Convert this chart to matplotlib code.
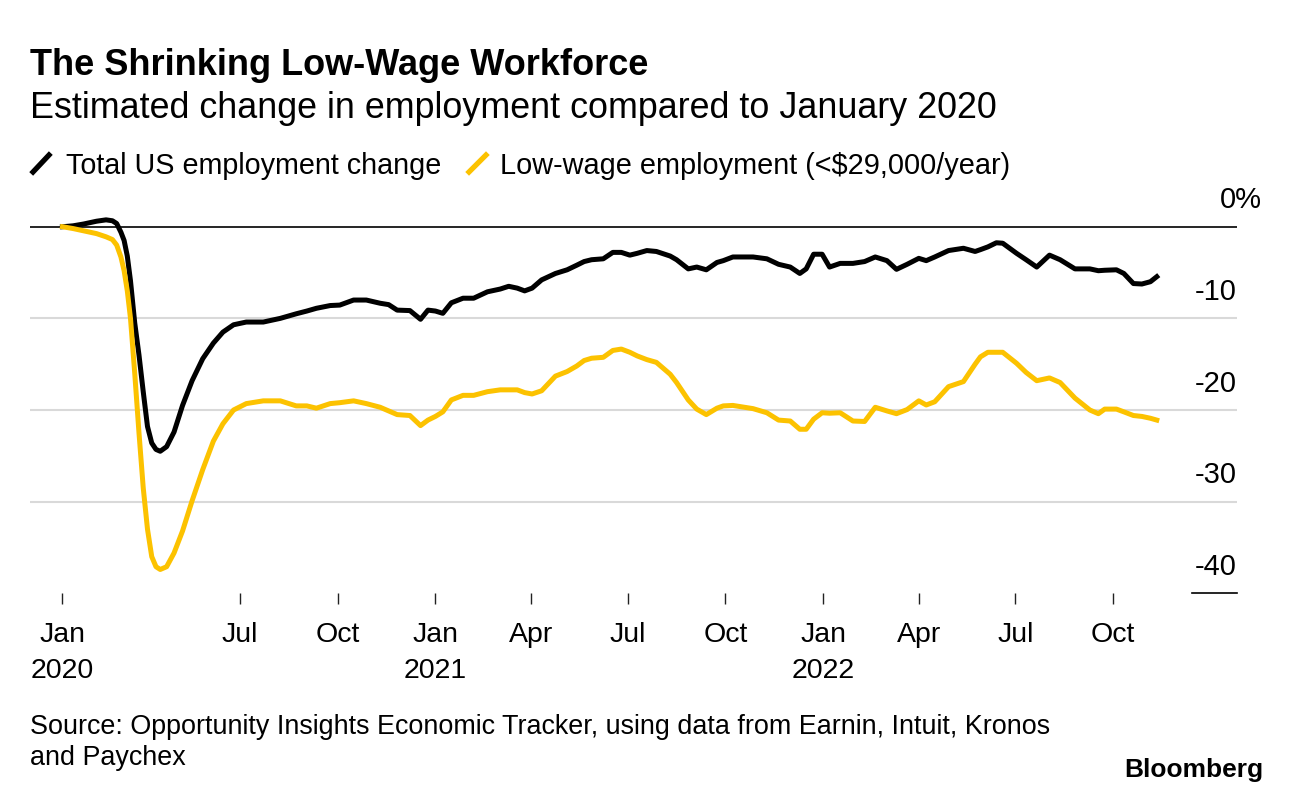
import pandas as pd
import numpy as np
import matplotlib
matplotlib.use('Agg')
import matplotlib.pyplot as plt
import matplotlib.dates as mdates
from matplotlib.lines import Line2D

plt.rcParams.update({'font.family': ['Liberation Sans', 'DejaVu Sans']})

# ---- data --------------------------------------------------------------------
dates = ['2020-01-16', '2020-01-26', '2020-02-05', '2020-02-17', '2020-02-26', '2020-03-03',
         '2020-03-07', '2020-03-11', '2020-03-14', '2020-03-17', '2020-03-20', '2020-03-24',
         '2020-03-28', '2020-04-01', '2020-04-05', '2020-04-09', '2020-04-13', '2020-04-17',
         '2020-04-23', '2020-04-30', '2020-05-08', '2020-05-17', '2020-05-27', '2020-06-06',
         '2020-06-15', '2020-06-25', '2020-07-07', '2020-07-23', '2020-08-08', '2020-08-23',
         '2020-09-02', '2020-09-11', '2020-09-24', '2020-10-03', '2020-10-16', '2020-10-28',
         '2020-11-10', '2020-11-18', '2020-11-26', '2020-12-08', '2020-12-18', '2020-12-25',
         '2021-01-01', '2021-01-08', '2021-01-16', '2021-01-27', '2021-02-06', '2021-02-19',
         '2021-03-03', '2021-03-11', '2021-03-19', '2021-03-26', '2021-04-02', '2021-04-11',
         '2021-04-24', '2021-05-05', '2021-05-14', '2021-05-21', '2021-05-28', '2021-06-08',
         '2021-06-17', '2021-06-25', '2021-07-03', '2021-07-10', '2021-07-19', '2021-07-28',
         '2021-08-10', '2021-08-16', '2021-08-27', '2021-09-04', '2021-09-13', '2021-09-23',
         '2021-09-29', '2021-10-08', '2021-10-27', '2021-11-09', '2021-11-20', '2021-12-01',
         '2021-12-10', '2021-12-16', '2021-12-23', '2021-12-31', '2022-01-07', '2022-01-17',
         '2022-01-29', '2022-02-09', '2022-02-19', '2022-03-02', '2022-03-11', '2022-03-21',
         '2022-04-01', '2022-04-08', '2022-04-16', '2022-04-29', '2022-05-13', '2022-05-24',
         '2022-05-29', '2022-06-05', '2022-06-13', '2022-06-19', '2022-07-02', '2022-07-11',
         '2022-07-21', '2022-08-02', '2022-08-12', '2022-08-26', '2022-09-09', '2022-09-17',
         '2022-09-23', '2022-10-04', '2022-10-11', '2022-10-20', '2022-10-28', '2022-11-05',
         '2022-11-11']

total_us = [0.0, 0.1, 0.3, 0.6, 0.75, 0.65,
            0.35, -0.6, -1.5, -3.2, -5.9, -10.5,
            -14.0, -18.0, -21.8, -23.6, -24.3, -24.5,
            -24.0, -22.4, -19.5, -16.8, -14.4, -12.7,
            -11.5, -10.7, -10.4, -10.4, -10.0, -9.5,
            -9.2, -8.9, -8.6, -8.55, -8.0, -8.0,
            -8.35, -8.5, -9.1, -9.15, -10.1, -9.1,
            -9.2, -9.45, -8.3, -7.8, -7.8, -7.1,
            -6.8, -6.5, -6.7, -7.0, -6.7, -5.8,
            -5.1, -4.7, -4.2, -3.8, -3.6, -3.5,
            -2.8, -2.8, -3.1, -2.9, -2.6, -2.7,
            -3.2, -3.6, -4.6, -4.4, -4.7, -3.9,
            -3.7, -3.3, -3.3, -3.5, -4.1, -4.4,
            -5.1, -4.6, -3.0, -3.0, -4.4, -4.0,
            -4.0, -3.8, -3.3, -3.7, -4.65, -4.1,
            -3.45, -3.7, -3.3, -2.6, -2.35, -2.7,
            -2.5, -2.2, -1.75, -1.8, -2.9, -3.6,
            -4.4, -3.1, -3.6, -4.6, -4.6, -4.8,
            -4.75, -4.7, -5.1, -6.2, -6.25, -6.0,
            -5.45]

low_wage = [0.0, -0.2, -0.45, -0.75, -1.1, -1.4,
            -2.0, -3.3, -4.8, -7.0, -10.0, -16.0,
            -22.5, -28.5, -33.0, -36.0, -37.1, -37.4,
            -37.1, -35.6, -33.2, -29.9, -26.5, -23.4,
            -21.5, -20.0, -19.3, -19.0, -19.0, -19.55,
            -19.55, -19.8, -19.3, -19.2, -19.0, -19.3,
            -19.7, -20.1, -20.5, -20.6, -21.7, -21.1,
            -20.7, -20.2, -18.9, -18.4, -18.4, -18.0,
            -17.8, -17.8, -17.8, -18.1, -18.25, -17.9,
            -16.3, -15.8, -15.2, -14.6, -14.35, -14.25,
            -13.5, -13.35, -13.7, -14.1, -14.5, -14.8,
            -16.1, -17.0, -18.9, -19.9, -20.5, -19.8,
            -19.55, -19.5, -19.85, -20.3, -21.1, -21.2,
            -22.1, -22.1, -21.0, -20.3, -20.35, -20.3,
            -21.2, -21.25, -19.7, -20.1, -20.4, -19.95,
            -19.0, -19.45, -19.1, -17.45, -16.9, -15.0,
            -14.2, -13.7, -13.7, -13.7, -14.9, -15.9,
            -16.8, -16.5, -17.0, -18.7, -20.0, -20.4,
            -19.9, -19.9, -20.2, -20.6, -20.7, -20.9,
            -21.1]

tick_dates = ['2020-01-16', '2020-07-01', '2020-10-01', '2021-01-01', '2021-04-01', '2021-07-01',
              '2021-10-01', '2022-01-01', '2022-04-01', '2022-07-01', '2022-10-01']
tick_labels = ['Jan\n2020', 'Jul', 'Oct', 'Jan\n2021', 'Apr', 'Jul',
               'Oct', 'Jan\n2022', 'Apr', 'Jul', 'Oct']
y_ticks = [0, -10, -20, -30, -40]
y_labels = ['0%', '-10', '-20', '-30', '-40']

BLACK = '#000000'
YELLOW = '#FCC200'
GRID = '#d9d9d9'

# ---- figure -----------------------------------------------------------------
W, H = 1292, 794
fig = plt.figure(figsize=(W / 100, H / 100), dpi=100)
fx = lambda px: px / W
fy = lambda py: 1 - py / H

# plot area: x 30..1237 px, y -40 at 593 px, +2 at 208 px
ax = fig.add_axes([fx(30), fy(593.3), fx(1237) - fx(30), (593.3 - 208.4) / H])
d = pd.to_datetime(dates)

for v in y_ticks[1:-1]:
    ax.axhline(v, color=GRID, lw=1.5, zorder=0)
ax.axhline(0, color=BLACK, lw=1.2, zorder=1)
ax.plot([0.963, 1.0], [-40, -40], color=BLACK, lw=1.2,
        transform=ax.get_yaxis_transform(), clip_on=False)

ax.plot(d, total_us, color=BLACK, lw=3.6, solid_joinstyle='round', zorder=3, clip_on=False)
ax.plot(d, low_wage, color=YELLOW, lw=3.6, solid_joinstyle='round', zorder=4, clip_on=False)

ax.set_xlim(pd.Timestamp('2019-12-16 10:00'), pd.Timestamp('2023-01-25 12:00'))
ax.set_ylim(-40, 2)

# right-hand value labels sitting above their gridlines
ytr = ax.get_yaxis_transform()
for v, lab in zip(y_ticks, y_labels):
    if lab.endswith('%'):
        ax.text(0.9859, v + 2.02, lab, transform=ytr, ha='left', va='baseline', fontsize=21)
    else:
        ax.text(1.0, v + 2.02, lab, transform=ytr, ha='right', va='baseline', fontsize=21)

ax.set_xticks(pd.to_datetime(tick_dates))
ax.set_xticklabels(tick_labels, fontsize=20.5, linespacing=1.5)
ax.tick_params(axis='x', length=8, width=1, color='#222222', pad=13)
ax.tick_params(axis='y', left=False, labelleft=False)
for s in ax.spines.values():
    s.set_visible(False)

# ---- titles, legend, footer --------------------------------------------------
fig.text(fx(30), fy(75), 'The Shrinking Low-Wage Workforce', fontsize=26, fontweight='bold',
         ha='left', va='baseline')
fig.text(fx(30), fy(117.5), 'Estimated change in employment compared to January 2020',
         fontsize=25.8, ha='left', va='baseline')

fig.add_artist(Line2D([fx(33), fx(49)], [fy(172), fy(155)], color=BLACK, lw=3.8))
fig.text(fx(66), fy(173.5), 'Total US employment change', fontsize=20.7, ha='left', va='baseline')
fig.add_artist(Line2D([fx(469), fx(486)], [fy(172), fy(155)], color=YELLOW, lw=3.8))
fig.text(fx(500), fy(173.5), 'Low-wage employment (<$29,000/year)', fontsize=20.8,
         ha='left', va='baseline')

fig.text(fx(30), fy(734), 'Source: Opportunity Insights Economic Tracker, using data from Earnin, '
         'Intuit, Kronos', fontsize=19.4, ha='left', va='baseline')
fig.text(fx(30), fy(765), 'and Paychex', fontsize=19.4, ha='left', va='baseline')
fig.text(fx(1263), fy(777), 'Bloomberg', fontsize=19, fontweight='bold', ha='right', va='baseline')

fig.savefig('out.png', dpi=100)
